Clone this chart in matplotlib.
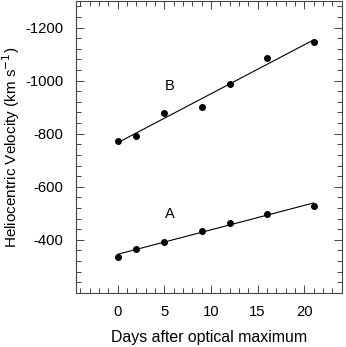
import numpy as np
import matplotlib
matplotlib.use("Agg")
import matplotlib.pyplot as plt
from matplotlib.ticker import MultipleLocator

plt.rcParams['font.family'] = ['Liberation Sans', 'DejaVu Sans']
plt.rcParams['axes.unicode_minus'] = False

days = [0, 2, 5, 9, 12, 16, 21]
vel_a = [-337, -367, -391, -432, -462, -499, -529]
vel_b = [-774, -792, -877, -899, -989, -1085, -1145]

fig = plt.figure(figsize=(3.46, 3.47), dpi=100)
ax = fig.add_axes([0.219, 0.156, 0.768, 0.841])

for vel, name, ypos in [(vel_a, "A", -498), (vel_b, "B", -978)]:
    ax.plot(days, vel, 'o', color='black', markersize=4)
    k, b = np.polyfit(days, vel, 1)
    xx = np.array([days[0], days[-1]])
    ax.plot(xx, k * xx + b, color='black', linewidth=0.8)
    ax.text(5.6, ypos, name, fontsize=10.5, ha='center', va='center')

ax.set_xlim(-4.5, 24)
ax.set_ylim(-200, -1300)
ax.xaxis.set_minor_locator(MultipleLocator(1))
ax.yaxis.set_minor_locator(MultipleLocator(40))
ax.set_xticks([0, 5, 10, 15, 20])
ax.set_yticks([-400, -600, -800, -1000, -1200])
ax.tick_params(which='both', direction='in', top=True, right=True,
               labelsize=10.7, width=0.7, color='#444444')
ax.tick_params(which='major', length=5.5, pad=9)
ax.tick_params(which='minor', length=3.5)
for s in ax.spines.values():
    s.set_linewidth(0.8)
    s.set_color('#444444')

ax.set_xlabel("Days after optical maximum", fontsize=11.4, labelpad=8)
ax.set_ylabel("Heliocentric Velocity (km s$^{-1}$)", fontsize=11)
ax.yaxis.set_label_coords(-0.204, 0.5)

fig.savefig("out.png", dpi=100)
